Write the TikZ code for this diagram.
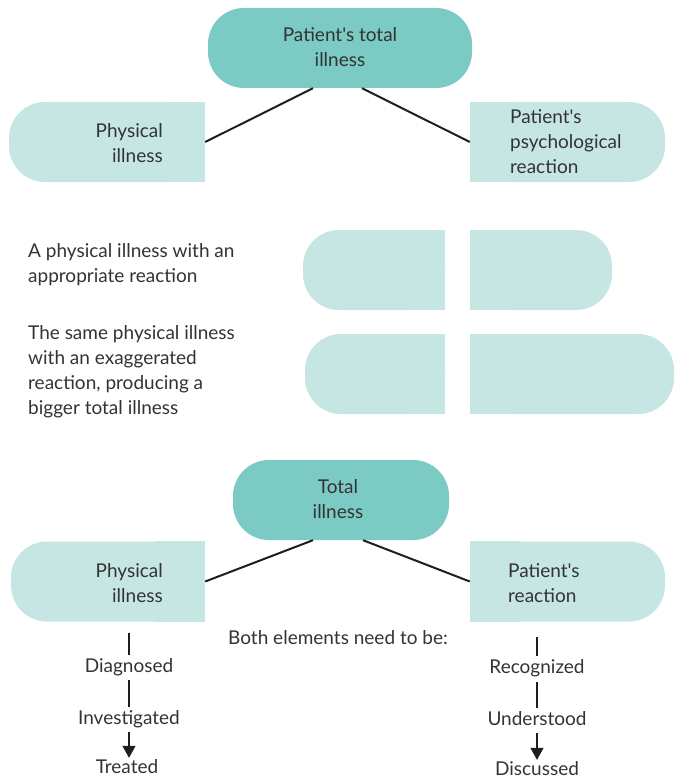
\documentclass[tikz,border=0pt]{standalone}
\usepackage{fontspec}
\setmainfont{Lato}[Ligatures=TeXOff]
\usetikzlibrary{calc,arrows.meta}
\definecolor{darkteal}{HTML}{7BCAC3}
\definecolor{lightteal}{HTML}{C5E6E3}
\definecolor{ink}{HTML}{333333}
\definecolor{linec}{HTML}{1E1E1E}
\tikzset{
  pill/.style={rectangle, rounded corners=36pt, inner sep=0pt, minimum height=80pt},
  darkpill/.style={pill, fill=darkteal},
  lightpill/.style={pill, fill=lightteal},
  txt/.style={text=ink, font=\fontsize{19}{25}\selectfont, inner sep=0pt},
  collabel/.style={txt, inner sep=0pt, text height=14pt, text depth=4pt},
  conn/.style={draw=linec, line width=2pt},
  vline/.style={draw=linec, line width=1.4pt},
  arr/.style={vline, -{Triangle[width=13pt,length=12pt]}}
}
\begin{document}
\begin{tikzpicture}[x=1pt,y=-1pt]
\useasboundingbox (0,0) rectangle (676,778);
% ---------- top ----------
\node[darkpill, minimum width=264pt] (tp) at (340,48) {};
\node[lightpill, minimum width=196pt] (pl) at (107,142) {};
\fill[lightteal] (pl.north east) rectangle ($(pl.south east)+(-50,0)$);
\node[lightpill, minimum width=195pt] (pr) at (567.5,142) {};
\fill[lightteal] (pr.north west) rectangle ($(pr.south west)+(50,0)$);
\node[txt, align=center] (tpt) at (340,47) {Patient's total\\illness};
\node[txt, align=right, anchor=east] (plt) at (163,143) {Physical\\illness};
\node[txt, align=left, anchor=west] (prt) at (510,142) {Patient's\\psychological\\reaction};
\draw[conn] ($(tp.south)+(-27,0)$) -- (pl.east);
\draw[conn] ($(tp.south)+(22,0)$) -- (pr.west);
% ---------- middle ----------
\node[txt, align=left, anchor=west] (m1) at (28,265) {A physical illness with an\\appropriate reaction};
\node[txt, align=left, anchor=west] (m2) at (28,372) {The same physical illness\\with an exaggerated\\reaction, producing a\\bigger total illness};
\node[lightpill, minimum width=142pt] (a1) at (374,270) {};
\fill[lightteal] (a1.north east) rectangle ($(a1.south east)+(-50,0)$);
\node[lightpill, minimum width=142pt] (a2) at (541,270) {};
\fill[lightteal] (a2.north west) rectangle ($(a2.south west)+(50,0)$);
\node[lightpill, minimum width=140pt] (b1) at (375,374) {};
\fill[lightteal] (b1.north east) rectangle ($(b1.south east)+(-50,0)$);
\node[lightpill, minimum width=204pt] (b2) at (572,374) {};
\fill[lightteal] (b2.north west) rectangle ($(b2.south west)+(50,0)$);
% ---------- bottom ----------
\node[darkpill, minimum width=216pt] (bp) at (341,500) {};
\node[lightpill, minimum width=194pt] (ql) at (108,581.5) {};
\fill[lightteal] (ql.north east) rectangle ($(ql.south east)+(-50,0)$);
\node[lightpill, minimum width=195pt] (qr) at (567.5,581.5) {};
\fill[lightteal] (qr.north west) rectangle ($(qr.south west)+(50,0)$);
\node[txt, align=center] (bpt) at (338,499) {Total\\illness};
\node[txt, align=right, anchor=east] (qlt) at (163,583) {Physical\\illness};
\node[txt, align=left, anchor=west] (qrt) at (508,583) {Patient's\\reaction};
\draw[conn] ($(bp.south)+(-28,0)$) -- (ql.east);
\draw[conn] ($(bp.south)+(22,0)$) -- (qr.west);
\node[txt] (both) at (338,638) {Both elements need to be:};
% left column
\node[collabel] (diag) at (129,667) {Diagnosed};
\node[collabel] (inv) at (129,719) {Investigated};
\node[collabel] (treat) at (127,768) {Treated};
\draw[vline, shorten <=11pt, shorten >=3pt] (ql.south -| diag) -- (diag.north);
\draw[vline, shorten <=4pt, shorten >=3pt] (diag.south) -- (inv.north);
\draw[arr, shorten <=4pt, shorten >=1pt] (inv.south) -- (inv.south |- treat.north);
% right column
\node[collabel] (rec) at (537,668) {Recognized};
\node[collabel] (und) at (537,720) {Understood};
\node[collabel] (disc) at (537,770) {Discussed};
\draw[vline, shorten <=15pt, shorten >=3pt] (qr.south -| rec) -- (rec.north);
\draw[vline, shorten <=5pt, shorten >=3pt] (rec.south) -- (und.north);
\draw[arr, shorten <=4pt, shorten >=1pt] (und.south) -- (disc.north);
\end{tikzpicture}
\end{document}
